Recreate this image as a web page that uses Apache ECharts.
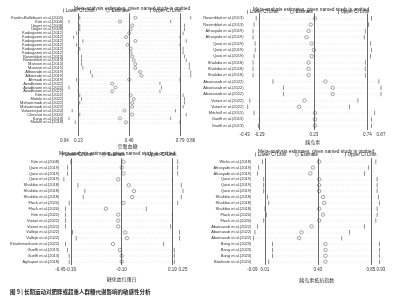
<!DOCTYPE html>
<html>
<head>
<meta charset="utf-8">
<script src="https://cdn.jsdelivr.net/npm/echarts@6/dist/echarts.min.js"></script>
<style>
  html, body { margin: 0; padding: 0; background: #fff; }
  #chart { width: 409px; height: 300px; }
</style>
</head>
<body>
<div id="chart"></div>
<script>
// 面板1 空腹血糖
const names1 = ["Fardin-Bollebaert et al.(2005)", "Kim et al.(2008)", "Unger et al.(2008)", "Unger et al.(2008)",
  "Kodogianni et al.(2012)", "Kodogianni et al.(2012)", "Kodogianni et al.(2012)", "Kodogianni et al.(2012)",
  "Kodogianni et al.(2012)", "Kodogianni et al.(2012)", "Rosenblatt et al.(2013)", "Rosenblatt et al.(2013)",
  "Masson et al.(2015)", "Masson et al.(2015)", "Alboorabi et al.(2019)", "Alboorabi et al.(2019)",
  "Ahmadi et al.(2019)", "Azadbooni et al.(2022)", "Azadbooni et al.(2022)", "Azadbooni et al.(2022)",
  "Kim et al.(2022)", "Maleki et al.(2022)", "Mohammadi et al.(2022)", "Mohammadi et al.(2022)",
  "Vafaeinejad et al.(2024)", "Chesnut et al.(2005)", "Kang et al.(2018)", "Maleki et al.(2018)"];
const lower1 = [0.14, 0.07, 0.14, 0.14, 0.12, 0.10, 0.16, 0.12, 0.14, 0.13, 0.15, 0.15, 0.15, 0.16, 0.21, 0.22, 0.12, 0.13, 0.07, 0.13, 0.14, 0.15, 0.14, 0.13, 0.09, 0.14, 0.07, 0.11];
const est1 = [0.50, 0.40, 0.48, 0.47, 0.46, 0.44, 0.50, 0.45, 0.47, 0.47, 0.48, 0.49, 0.50, 0.50, 0.53, 0.54, 0.46, 0.35, 0.37, 0.35, 0.47, 0.49, 0.48, 0.48, 0.43, 0.48, 0.40, 0.44];
const upper1 = [0.86, 0.73, 0.82, 0.82, 0.81, 0.79, 0.83, 0.79, 0.81, 0.81, 0.82, 0.83, 0.85, 0.85, 0.86, 0.86, 0.79, 0.66, 0.67, 0.66, 0.81, 0.82, 0.82, 0.81, 0.76, 0.83, 0.73, 0.79];
const ticks1 = [0.04, 0.13, 0.46, 0.79, 0.86];

// 面板2 胰岛素
const names2 = ["Rosenblatt et al.(2013)", "Rosenblatt et al.(2013)", "Afrasyabi et al.(2019)", "Afrasyabi et al.(2019)",
  "Qaisi et al.(2019)", "Qaisi et al.(2019)", "Qaisi et al.(2019)", "Shakiba et al.(2018)", "Shakiba et al.(2018)",
  "Shakiba et al.(2018)", "Abainasab et al.(2022)", "Abainasab et al.(2022)", "Abainasab et al.(2022)",
  "Vatani et al.(2022)", "Vatani et al.(2022)", "Mitchell et al.(2015)", "Gueffi et al.(2013)", "Gueffi et al.(2013)"];
const lower2 = [-0.32, -0.34, -0.35, -0.35, -0.33, -0.33, -0.34, -0.35, -0.35, -0.35, -0.16, -0.06, -0.06, -0.38, -0.40, -0.34, -0.29, -0.30];
const est2 = [0.24, 0.20, 0.18, 0.16, 0.21, 0.23, 0.21, 0.18, 0.18, 0.18, 0.34, 0.41, 0.41, 0.14, 0.09, 0.24, 0.24, 0.24];
const upper2 = [0.78, 0.75, 0.72, 0.71, 0.77, 0.78, 0.77, 0.72, 0.72, 0.72, 0.85, 0.87, 0.87, 0.65, 0.57, 0.81, 0.78, 0.78];
const ticks2 = [-0.43, -0.29, 0.23, 0.74, 0.87];

// 面板3 糖化血红蛋白
const names3 = ["Kim et al.(2008)", "Qaisi et al.(2019)", "Qaisi et al.(2019)", "Qaisi et al.(2019)",
  "Shakiba et al.(2018)", "Shakiba et al.(2018)", "Shakiba et al.(2018)", "Flack et al.(2020)", "Flack et al.(2020)",
  "Kim et al.(2022)", "Vatani et al.(2022)", "Vatani et al.(2022)", "Vallejo et al.(2022)", "Vallejo et al.(2022)",
  "Khademosharie et al.(2022)", "Gueffi et al.(2013)", "Gueffi et al.(2013)", "Aghajani et al.(2018)"];
const lower3 = [-0.39, -0.41, -0.41, -0.43, -0.35, -0.31, -0.32, -0.40, -0.42, -0.42, -0.42, -0.42, -0.38, -0.36, -0.42, -0.41, -0.40, -0.40];
const est3 = [-0.09, -0.10, -0.09, -0.12, -0.06, -0.03, -0.04, -0.09, -0.19, -0.12, -0.12, -0.12, -0.08, -0.07, -0.15, -0.11, -0.10, -0.10];
const upper3 = [0.22, 0.22, 0.22, 0.19, 0.24, 0.25, 0.24, 0.22, 0.04, 0.19, 0.19, 0.18, 0.23, 0.23, 0.14, 0.20, 0.20, 0.20];
const ticks3 = [-0.45, -0.39, -0.10, 0.19, 0.25];

// 面板4 胰岛素抵抗指数
const names4 = ["Wicks et al.(2018)", "Afrasyabi et al.(2019)", "Afrasyabi et al.(2019)", "Qaisi et al.(2019)",
  "Qaisi et al.(2019)", "Qaisi et al.(2019)", "Shakiba et al.(2018)", "Shakiba et al.(2018)", "Shakiba et al.(2018)",
  "Flack et al.(2020)", "Flack et al.(2020)", "Abainasab et al.(2022)", "Abainasab et al.(2022)", "Abainasab et al.(2022)",
  "Bang et al.(2023)", "Bang et al.(2023)", "Bang et al.(2023)", "Bonfante et al.(2024)"];
const lower4 = [-0.01, -0.04, -0.05, 0.00, 0.00, 0.00, 0.03, 0.04, 0.01, 0.02, 0.00, -0.05, -0.07, -0.08, 0.07, 0.07, 0.07, 0.04];
const est4 = [0.44, 0.39, 0.37, 0.44, 0.44, 0.44, 0.47, 0.48, 0.44, 0.47, 0.44, 0.38, 0.30, 0.28, 0.49, 0.49, 0.49, 0.49];
const upper4 = [0.89, 0.83, 0.80, 0.90, 0.90, 0.90, 0.91, 0.92, 0.90, 0.90, 0.89, 0.80, 0.68, 0.62, 0.92, 0.92, 0.92, 0.92];
const ticks4 = [-0.09, 0.01, 0.43, 0.85, 0.93];

const xNames = ["空腹血糖", "胰岛素", "糖化血红蛋白", "胰岛素抵抗指数"];
const titleText = "Meta-analysis estimates, given named study is omitted";
const caption = "图 9 | 长期运动对肥胖或超重人群糖代谢影响的敏感性分析";

const font = "Liberation Sans";
const cjk = "Noto Sans CJK SC";
const grey = "#666";

// 每个面板的位置
const panels = [
  { names: names1, lo: lower1, est: est1, up: upper1, ticks: ticks1,
    grid: { left: 64.4, top: 13.3, width: 126.4, height: 122.7 }, ymin: -1.14, ymax: 30.54,
    tick: 3.4, dot: 3, titleX: 127, titleY: 1.5, legY: 8, legX: [63, 106, 150], nameGap: 8 },
  { names: names2, lo: lower2, est: est2, up: upper2, ticks: ticks2,
    grid: { left: 244.6, top: 13.3, width: 136.4, height: 116.7 }, ymin: -0.79, ymax: 17.68,
    tick: 4.5, dot: 3.4, titleX: 306, titleY: 2.5, legY: 9.5, legX: [247, 290, 338], nameGap: 10 },
  { names: names3, lo: lower3, est: est3, up: upper3, ticks: ticks3,
    grid: { left: 60.4, top: 158.3, width: 122.6, height: 106.7 }, ymin: -0.58, ymax: 17.56,
    tick: 4.5, dot: 3.4, titleX: 112, titleY: 145.8, legY: 152, legX: [62, 102, 145], nameGap: 12 },
  { names: names4, lo: lower4, est: est4, up: upper4, ticks: ticks4,
    grid: { left: 252.4, top: 158.3, width: 128.5, height: 106.7 }, ymin: -0.58, ymax: 17.56,
    tick: 4.5, dot: 3.4, titleX: 311, titleY: 144.3, legY: 152, legX: [255, 295, 345], nameGap: 13 }
];

const grids = [], xAxes = [], yAxes = [], series = [], titles = [], legends = [];

panels.forEach((p, k) => {
  grids.push(p.grid);
  const idx = p.names.map((n, i) => i);
  xAxes.push({
    type: "value", gridIndex: k, min: p.ticks[0], max: p.ticks[p.ticks.length - 1],
    name: xNames[k], nameLocation: "middle", nameGap: p.nameGap,
    nameTextStyle: { fontFamily: cjk, fontSize: 5, color: "#333" },
    axisLine: { show: false }, axisTick: { show: false }, splitLine: { show: false },
    axisLabel: {
      customValues: p.ticks, margin: 2, fontSize: 4.5, color: "#333", fontFamily: font,
      formatter: v => v.toFixed(2)
    }
  });
  yAxes.push({
    type: "value", gridIndex: k, inverse: true, min: p.ymin, max: p.ymax,
    axisLine: { show: false }, axisTick: { show: false }, splitLine: { show: false },
    axisLabel: {
      customValues: idx, margin: 1, fontSize: 4, color: "#333", fontFamily: font,
      formatter: v => p.names[Math.round(v)] || ""
    }
  });

  series.push({
    type: "lines", coordinateSystem: "cartesian2d", xAxisIndex: k, yAxisIndex: k, silent: true,
    lineStyle: { type: [1, 1.2], color: "#c4c4c4", width: 0.4, opacity: 1 },
    data: idx.map(i => ({ coords: [[p.lo[i], i], [p.up[i], i]] }))
  });
  series.push({
    name: "Lower CI Limit", type: "scatter", xAxisIndex: k, yAxisIndex: k, silent: true,
    symbol: "rect", symbolSize: [0.7, p.tick], itemStyle: { color: grey, opacity: 1 },
    data: idx.map(i => [p.lo[i], i])
  });
  series.push({
    name: "Estimate", type: "scatter", xAxisIndex: k, yAxisIndex: k, silent: true,
    symbol: "circle", symbolSize: p.dot,
    itemStyle: { color: "#fff", borderColor: grey, borderWidth: 0.6, opacity: 1 },
    data: idx.map(i => [p.est[i], i]),
    markLine: {
      silent: true, symbol: "none", label: { show: false },
      lineStyle: { type: "solid", color: "#444", width: 0.8 },
      data: p.ticks.slice(1, 4).map(v => ({ xAxis: v }))
    }
  });
  series.push({
    name: "Upper CI Limit", type: "scatter", xAxisIndex: k, yAxisIndex: k, silent: true,
    symbol: "rect", symbolSize: [0.7, p.tick], itemStyle: { color: grey, opacity: 1 },
    data: idx.map(i => [p.up[i], i])
  });

  titles.push({
    text: titleText, left: p.titleX, top: p.titleY, textAlign: "center",
    textStyle: { fontSize: 4.8, fontWeight: "normal", color: "#222", fontFamily: font }
  });

  ["Lower CI Limit", "Estimate", "Upper CI Limit"].forEach((nm, j) => {
    const isDot = nm === "Estimate";
    legends.push({
      data: [nm], left: p.legX[j], top: p.legY, padding: 0, itemGap: 0,
      icon: isDot ? "circle" : "rect",
      itemWidth: isDot ? 3.2 : 0.7, itemHeight: isDot ? 3.2 : 4,
      itemStyle: isDot ? { color: "#fff", borderColor: grey, borderWidth: 0.6 } : { color: grey },
      selectedMode: false,
      textStyle: { fontSize: 4.5, color: "#222", fontFamily: font, padding: [0, 0, 0, -3] }
    });
  });
});

titles.push({
  text: caption, left: 5, top: 284.5,
  textStyle: { fontSize: 5.5, fontWeight: "bold", color: "#222", fontFamily: cjk }
});

const chart = echarts.init(document.getElementById("chart"), null, { renderer: "canvas" });
chart.setOption({
  animation: false,
  backgroundColor: "#fff",
  title: titles,
  legend: legends,
  grid: grids,
  xAxis: xAxes,
  yAxis: yAxes,
  series: series
});
</script>
</body>
</html>
